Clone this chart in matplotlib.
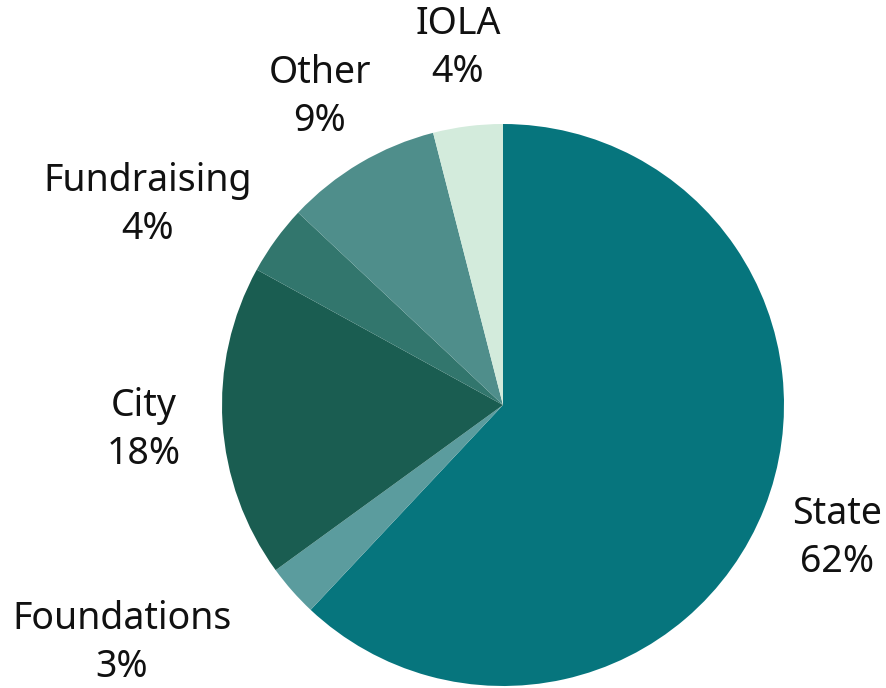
import matplotlib.pyplot as plt

labels = ["State", "Foundations", "City", "Fundraising", "Other", "IOLA"]
shares = [62, 3, 18, 4, 9, 4]
colors = ["#06757D", "#5B9C9E", "#1A5D51", "#32766D", "#4F8E8B", "#D3EBDC"]

# label anchor in pixels (x, y from top)
label_pos = [(837, 538), (122, 643), (144, 430), (148, 205), (320, 97), (458, 48)]

plt.rcParams['font.family'] = ['Noto Sans', 'DejaVu Sans']

fig = plt.figure(figsize=(8.87, 6.88), dpi=100)
ax = fig.add_axes([0, 0, 1, 1])
ax.pie(shares, colors=colors, startangle=90, counterclock=False,
       center=(503, 688 - 405), radius=281, frame=True)
ax.set_xlim(0, 887)
ax.set_ylim(0, 688)
ax.set_aspect('equal')
ax.axis('off')

for lab, v, (x, y) in zip(labels, shares, label_pos):
    ax.text(x, 688 - y, f"{lab}\n{v}%", ha='center', va='center',
            fontsize=27, linespacing=1.32, color='#111111')

fig.savefig("out.png", dpi=100)
